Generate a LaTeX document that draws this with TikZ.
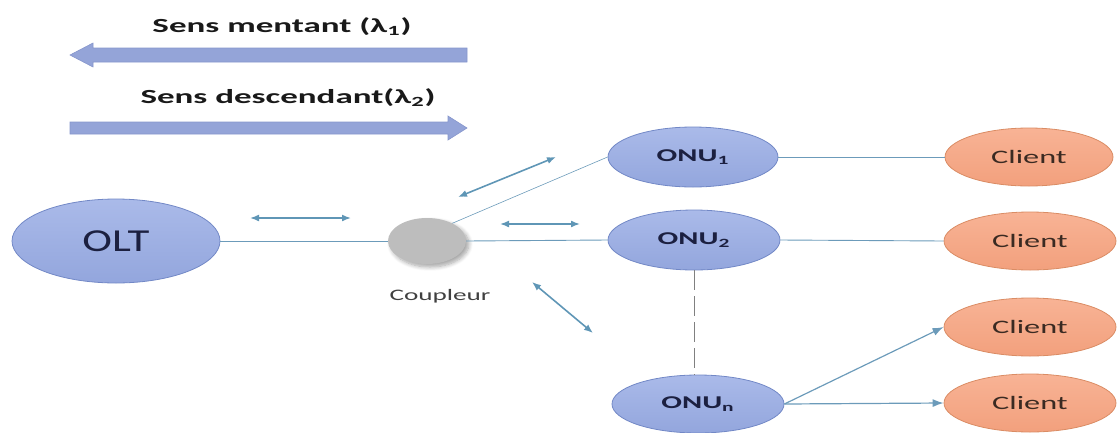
\documentclass[tikz,border=0pt]{standalone}
\usepackage{fontspec}
\setmainfont{Carlito}
\usetikzlibrary{shapes.geometric,arrows.meta,shadows.blur}

\definecolor{onutop}{HTML}{AABAE9}
\definecolor{onubot}{HTML}{93A6DD}
\definecolor{onuedge}{HTML}{7288C6}
\definecolor{clitop}{HTML}{F8B395}
\definecolor{clibot}{HTML}{F2A07D}
\definecolor{cliedge}{HTML}{DA8C64}
\definecolor{link}{HTML}{6C9BBA}
\definecolor{flow}{HTML}{5F96B6}
\definecolor{bigfill}{HTML}{94A4D8}
\definecolor{bigedge}{HTML}{8696CC}
\definecolor{ink}{HTML}{1C2040}
\definecolor{clink}{HTML}{3A2A22}

% horizontally widened text
\newcommand\wide[2][1.7]{\scalebox{#1}[1]{#2}}

\tikzset{
  equip/.style={ellipse, draw=onuedge, line width=0.8pt, top color=onutop,
    bottom color=onubot, inner sep=0pt, text=ink},
  client/.style={ellipse, draw=cliedge, line width=0.8pt, top color=clitop,
    bottom color=clibot, inner sep=0pt, text=clink,
    minimum width=172pt, minimum height=58pt,
    font=\fontsize{19}{23}\selectfont},
  coupler/.style={ellipse, fill=black!26, draw=none, inner sep=0pt,
    minimum width=78pt, minimum height=46pt,
    blur shadow={shadow xshift=3pt, shadow yshift=-3pt, shadow blur steps=8,
      shadow blur radius=4pt, shadow opacity=35}},
  fibre/.style={draw=link, line width=0.9pt},
  feed/.style={draw=link, line width=1.2pt, -{Latex[length=11pt,width=8pt]}},
  dual/.style={draw=flow, line width=1.6pt, {Latex[length=9pt,width=7pt]}-{Latex[length=9pt,width=7pt]}},
  bigarrow/.style={fill=bigfill, draw=bigedge, line width=0.6pt},
  title/.style={font=\fontsize{20}{24}\selectfont\bfseries, text=black!90, inner sep=0pt},
}

\begin{document}
\begin{tikzpicture}[x=1pt, y=-1pt]
\useasboundingbox (0,0) rectangle (1120,432);

% direction banners
\node[title] (up) at (282,27) {\wide[1.75]{Sens mentant (λ\textsubscript{1})}};
\draw[bigarrow] (467,48) -- (93,48) -- (93,43) -- (70,55) -- (93,67) -- (93,62) -- (467,62) -- cycle;
\node[title] (down) at (288,98) {\wide[1.75]{Sens descendant(λ\textsubscript{2})}};
\draw[bigarrow] (70,122) -- (448,122) -- (448,116) -- (467,128) -- (448,140) -- (448,134) -- (70,134) -- cycle;

% equipment
\node[equip, minimum width=208pt, minimum height=84pt,
      font=\fontsize{32}{36}\selectfont] (olt) at (116,241) {\wide[1.4]{OLT}};
\node[coupler] (cpl) at (427,241) {};
\node[font=\fontsize{16}{20}\selectfont, text=black!75, inner sep=0pt] (cpllab) at (440,296) {\wide{Coupleur}};

\node[equip, minimum width=170pt, minimum height=60pt,
      font=\fontsize{18}{22}\selectfont\bfseries] (onu1) at (693,157) {\wide{ONU\textsubscript{1}}};
\node[equip, minimum width=172pt, minimum height=60pt,
      font=\fontsize{18}{22}\selectfont\bfseries] (onu2) at (694,240) {\wide{ONU\textsubscript{2}}};
\node[equip, minimum width=172pt, minimum height=58pt,
      font=\fontsize{18}{22}\selectfont\bfseries] (onun) at (698,404) {\wide{ONU\textsubscript{n}}};

\node[client, minimum width=168pt] (c1) at (1029,157) {\wide{Client}};
\node[client] (c2) at (1030,241) {\wide{Client}};
\node[client] (c3) at (1030,327) {\wide{Client}};
\node[client] (c4) at (1030,403) {\wide{Client}};

% fibre links
\draw[fibre] (olt.east) -- (cpl.west);
\draw[fibre, line width=0.6pt] (cpl.35) -- (onu1.west);
\draw[fibre] (cpl.east) -- (onu2.west);
\draw[fibre] (onu1.east) -- (c1.west);
\draw[fibre] (onu2.east) -- (c2.west);
\draw[draw=black!50, line width=1pt, dash pattern=on 20pt off 6pt]
  (onu2.south) -- (onu2.south |- onun.north);
\draw[feed] (onun.east) -- (c3.west);
\draw[feed] (onun.east) -- (c4.west);

% bidirectional traffic markers
\coordinate (a1s) at (250,218); \coordinate (a1e) at (351,218);
\coordinate (a2s) at (458,197); \coordinate (a2e) at (556,157);
\coordinate (a3s) at (500,224); \coordinate (a3e) at (580,224);
\coordinate (a4s) at (532,282); \coordinate (a4e) at (593,333);
\draw[dual] (a1s) -- (a1e);
\draw[dual] (a2s) -- (a2e);
\draw[dual] (a3s) -- (a3e);
\draw[dual] (a4s) -- (a4e);
\end{tikzpicture}
\end{document}
